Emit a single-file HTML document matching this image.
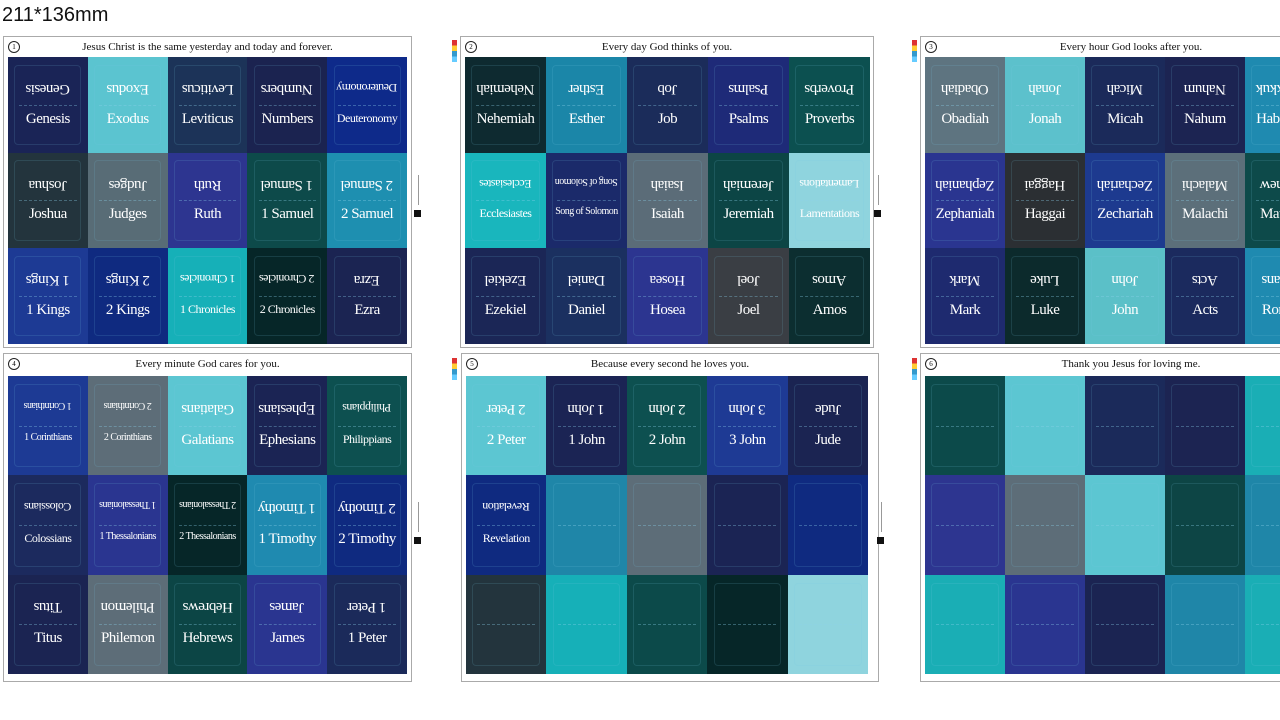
<!DOCTYPE html>
<html><head><meta charset="utf-8">
<style>
body{margin:0;width:1280px;height:720px;background:#fff;position:relative;overflow:hidden;font-family:"Liberation Serif",serif}
.lbl{position:absolute;left:2px;top:4px;font:20px "Liberation Sans",sans-serif;color:#111}
.panel{position:absolute;border:1px solid #aaa;background:#fff}
.title{position:absolute;left:0;right:0;top:4px;text-align:center;font-size:11px;color:#111}
.circ{position:absolute;left:4px;top:4px;width:10px;height:10px;border:1px solid #222;border-radius:50%;font-size:7px;text-align:center;line-height:10px}
.grid{position:absolute;display:grid;grid-template-columns:repeat(5,1fr);grid-template-rows:repeat(3,1fr)}
.t{position:relative;color:#fff;overflow:hidden}
.t::before{content:"";position:absolute;left:8%;right:8%;top:8%;bottom:8%;border:1px solid rgba(120,200,230,.15);border-radius:4px}
.t::after{content:"";position:absolute;left:14%;right:14%;top:50%;border-top:1px dashed rgba(140,210,235,.35)}
.t span{position:absolute;left:0;right:0;text-align:center;font-size:15px;white-space:nowrap;letter-spacing:-.5px}
.t .u{top:24%;transform:rotate(180deg)}
.t .n{top:56%}
.mk{position:absolute;width:7px;height:7px;background:#111}
.vl{position:absolute;width:1px;height:30px;background:#999}
</style></head><body>
<div class="lbl">211*136mm</div>
<div id="root"></div>
<script>
const P=[
 {x:3,y:36,w:407,h:310,gx:4,gy:20,gw:399,gh:287,t:"Jesus Christ is the same yesterday and today and forever.",
  c:["#1a2456","#5bc4d0","#1c3358","#1b2350","#0e2a8a","#23343d","#586c76","#2d3590","#0d4a4a","#1e8fb0","#1d3a94","#0f2a80","#16b0b8","#062628","#1b2452"],
  n:["Genesis","Exodus","Leviticus","Numbers","Deuteronomy","Joshua","Judges","Ruth","1 Samuel","2 Samuel","1 Kings","2 Kings","1 Chronicles","2 Chronicles","Ezra"]},
 {x:460,y:36,w:412,h:310,gx:4,gy:20,gw:405,gh:287,t:"Every day God thinks of you.",
  c:["#0e2a30","#1b86a8","#1b2c5a","#1e2a78","#0c5050","#19b6bd","#1b2a6a","#5b6c78","#0c4545","#8fd4de","#1b2656","#1b3060","#2c3590","#3a3e44","#0c2e30"],
  n:["Nehemiah","Esther","Job","Psalms","Proverbs","Ecclesiastes","Song of Solomon","Isaiah","Jeremiah","Lamentations","Ezekiel","Daniel","Hosea","Joel","Amos"]},
 {x:920,y:36,w:420,h:310,gx:4,gy:20,gw:400,gh:287,t:"Every hour God looks after you.",
  c:["#5e7480","#5cc1cc","#1b2a5a","#1c2452","#1f8ab0","#2a3590","#2b2f33","#1d3a8f","#5c6f7a","#0d4a4a","#1e2a6f","#0c2a2c","#5bc0c8","#1b2a5e","#1f8ab0"],
  n:["Obadiah","Jonah","Micah","Nahum","Habakkuk","Zephaniah","Haggai","Zechariah","Malachi","Matthew","Mark","Luke","John","Acts","Romans"]},
 {x:3,y:353,w:407,h:327,gx:4,gy:22,gw:399,gh:298,t:"Every minute God cares for you.",
  c:["#1d3a94","#5d6d78","#5cc6d2","#1b2454","#0d5050","#1c2a5e","#2a3590","#062628","#1f8ab0","#0f2a80","#1b2452","#5d6d78","#0c4545","#2a3590","#1b2a5a"],
  n:["1 Corinthians","2 Corinthians","Galatians","Ephesians","Philippians","Colossians","1 Thessalonians","2 Thessalonians","1 Timothy","2 Timothy","Titus","Philemon","Hebrews","James","1 Peter"]},
 {x:461,y:353,w:416,h:327,gx:4,gy:22,gw:402,gh:298,t:"Because every second he loves you.",
  c:["#5cc6d2","#1b2454","#0d5050","#1e3a94","#1b2452","#0f2a80","#1f86a8","#5d6d78","#1b2454","#0f2a80","#23343d","#16b0b8","#0c4a4a","#062628","#8fd4de"],
  n:["2 Peter","1 John","2 John","3 John","Jude","Revelation","","","","","","","","",""]},
 {x:920,y:353,w:420,h:327,gx:4,gy:22,gw:400,gh:298,t:"Thank you Jesus for loving me.",
  c:["#0c4a4a","#5cc6d2","#1b2a5a","#1c2452","#1aaeb5","#2d3590","#5d6d78","#5cc6d2","#0d4545","#1f86a8","#1aaeb5","#2a3590","#1b2452","#1f86a8","#1aaeb5"],
  n:["","","","","","","","","","","","","","",""]}
];
let h="";
P.forEach((p,i)=>{
 h+=`<div class="panel" style="left:${p.x}px;top:${p.y}px;width:${p.w}px;height:${p.h}px"><div class="circ">${i+1}</div><div class="title">${p.t}</div><div class="grid" style="left:${p.gx}px;top:${p.gy}px;width:${p.gw}px;height:${p.gh}px">`;
 p.c.forEach((c,j)=>{const n=p.n[j];const fs=n.length>12?10:(n.length>9?12:15);
  h+=`<div class="t" style="background:${c}">${n?`<span class="u" style="font-size:${fs}px">${n}</span><span class="n" style="font-size:${fs}px">${n}</span>`:""}</div>`;});
 h+=`</div></div>`;
});
[[414,210],[874,210],[414,537],[877,537]].forEach(([x,y])=>{h+=`<div class="mk" style="left:${x}px;top:${y}px"></div><div class="vl" style="left:${x+4}px;top:${y-35}px"></div>`});
[[452,40],[912,40],[452,358],[912,358]].forEach(([x,y])=>{h+=`<div style="position:absolute;left:${x}px;top:${y}px;width:5px;height:22px;background:linear-gradient(#d33 0 25%,#fc3 25% 50%,#39c 50% 75%,#6cf 75%)"></div>`});
document.getElementById("root").innerHTML=h;
</script>
</body></html>
